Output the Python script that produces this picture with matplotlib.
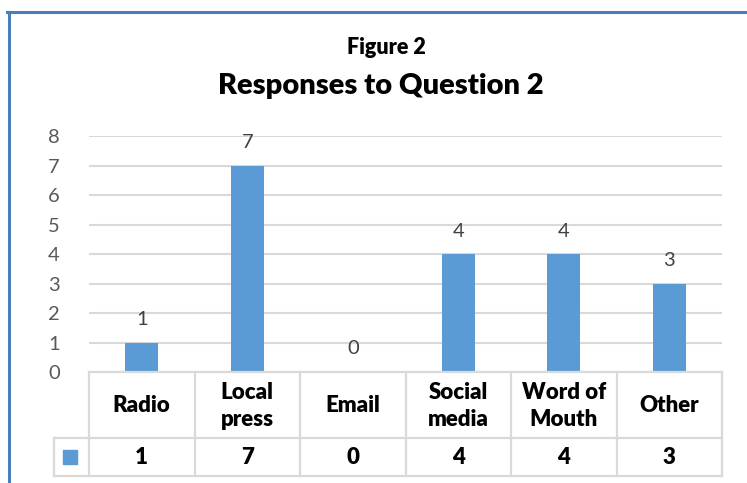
import numpy as np
import matplotlib.pyplot as plt
from matplotlib.patches import Rectangle

plt.rcParams["font.family"] = ["Lato", "DejaVu Sans"]

categories = ["Radio", "Local\npress", "Email", "Social\nmedia", "Word of\nMouth", "Other"]
values = [1, 7, 0, 4, 4, 3]
yticks = [0, 1, 2, 3, 4, 5, 6, 7, 8]

bar_color = "#5B9BD5"
grid_color = "#D9D9D9"
W, H = 747, 483

fig = plt.figure(figsize=(W / 100, H / 100), dpi=100)

# pixel helpers
def fx(px):
    return px / W

def fy(py):
    return 1 - py / H

# outer border (chart area, cropped at right/bottom)
fig.add_artist(plt.Line2D([fx(7), fx(747)], [fy(12), fy(12)], color="#4A7EBB", lw=2.2))
fig.add_artist(plt.Line2D([fx(9), fx(9)], [fy(12), fy(483)], color="#4A7EBB", lw=2.2))

# titles
fig.text(fx(386), fy(48), "Figure 2", ha="center", va="center",
         fontsize=15.5, fontweight="heavy", color="black")
fig.text(fx(381), fy(86), "Responses to Question 2", ha="center", va="center",
         fontsize=21, fontweight="heavy", color="black")

left, right, top, bottom = 89, 722, 136.5, 372
ax = fig.add_axes([fx(left), fy(bottom), fx(right - left), fy(top) - fy(bottom)])

x = np.arange(len(categories))
ax.bar(x, values, width=0.31, color=bar_color, zorder=3)
for xi, v in zip(x, values):
    ax.text(xi, v + 0.5, str(v), ha="center", va="bottom", fontsize=14.5, color="#404040")

ax.set_xlim(-0.5, len(categories) - 0.5)
ax.set_ylim(0, 8)
ax.set_yticks(yticks)
ax.yaxis.grid(True, color=grid_color, lw=1.5, zorder=0)
ax.tick_params(axis="y", length=0, labelsize=14.5, labelcolor="#595959", pad=21)
ax.set_xticks([])
for s in ax.spines.values():
    s.set_visible(False)

# data table below the axis
tab = fig.add_axes([0, 0, 1, 1])
tab.set_xlim(0, W)
tab.set_ylim(H, 0)
tab.axis("off")

col_w = (right - left) / len(categories)
row1_top, row2_top, row2_bot = 372, 438, 476
key_left = 54

lw = 1.6
tab.plot([left, right], [row1_top, row1_top], color=grid_color, lw=lw)
tab.plot([key_left, right], [row2_top, row2_top], color=grid_color, lw=lw)
tab.plot([key_left, right], [row2_bot, row2_bot], color=grid_color, lw=lw)
tab.plot([key_left, key_left], [row2_top, row2_bot], color=grid_color, lw=lw)
for i in range(len(categories) + 1):
    cx = left + i * col_w
    tab.plot([cx, cx], [row1_top, row2_bot], color=grid_color, lw=lw)

for i, (cat, v) in enumerate(zip(categories, values)):
    cx = left + (i + 0.5) * col_w
    tab.text(cx, (row1_top + row2_top) / 2 + 1, cat, ha="center", va="center",
             fontsize=16, fontweight="heavy", color="black", linespacing=1.4)
    tab.text(cx, (row2_top + row2_bot) / 2 + 1, str(v), ha="center", va="center",
             fontsize=16, fontweight="heavy", color="black")

tab.add_patch(Rectangle((63, 450), 14, 14, color=bar_color))

fig.savefig("out.png", dpi=100)
